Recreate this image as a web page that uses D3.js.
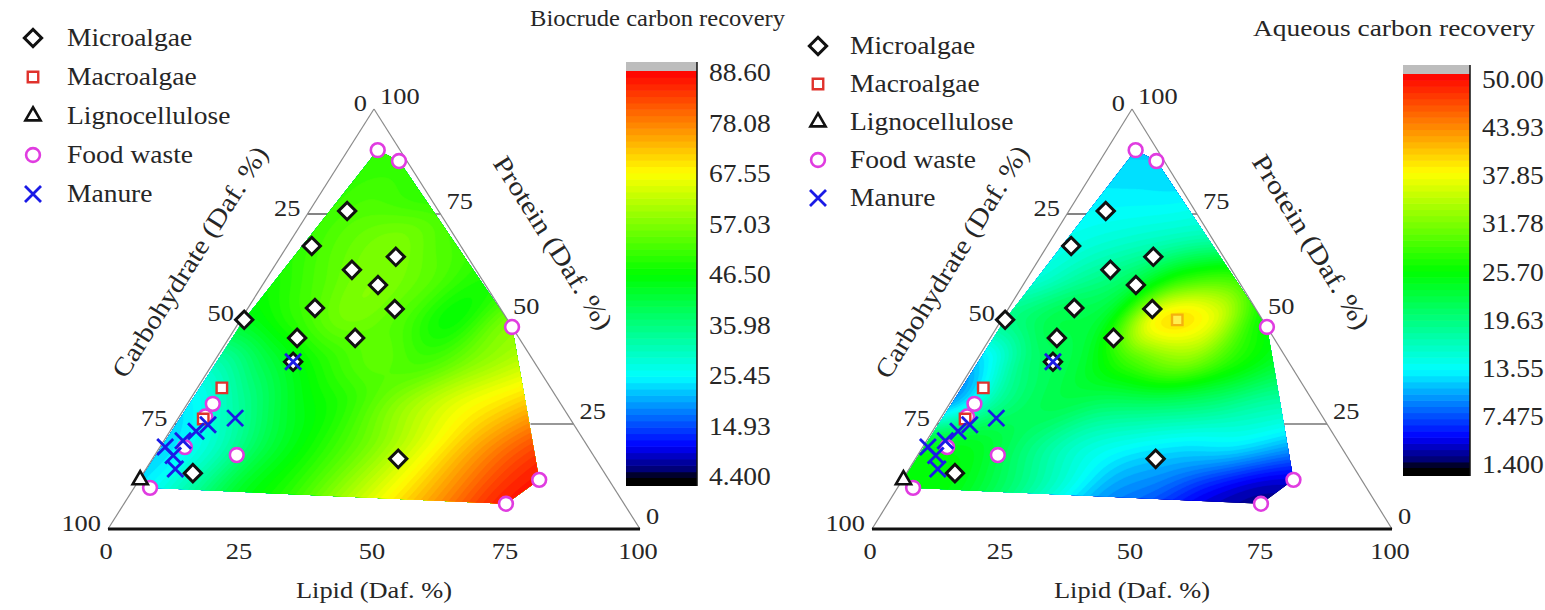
<!DOCTYPE html>
<html>
<head>
<meta charset="utf-8">
<script src="https://cdn.jsdelivr.net/npm/d3@7"></script>
<style>
  html, body { margin: 0; background: #ffffff; }
  svg { display: block; }
  text { font-family: "Liberation Serif", "Times New Roman", serif; fill: #262626; }
</style>
</head>
<body>
<svg id="chart" width="1545" height="610"></svg>
<script>
// Feedstock compositions as [lipid, protein] in daf %; carbohydrate = 100 - lipid - protein
const microalgae = [
  [7.1, 75.7], [4.6, 67.4], [15.0, 61.7], [21.7, 64.8], [21.7, 58.1], [12.6, 52.6],
  [27.7, 52.4], [0.7, 49.8], [12.8, 45.5], [23.7, 45.5], [46.2, 16.7], [9.3, 13.3], [14.9, 39.8]
];
const macroalgae = [[4.6, 33.6], [4.8, 26.2]];
const lignocellulose = [[0.2, 11.7]];
const foodWaste = [
  [5.6, 90.2], [10.9, 87.6], [51.9, 48.1], [75.2, 11.7], [71.8, 6.0],
  [4.8, 29.8], [15.4, 17.6], [3.0, 9.8], [4.7, 19.5], [4.9, 26.8]
];
const manure = [
  [10.7, 26.4], [6.4, 24.8], [4.9, 23.3], [3.6, 21.0], [1.0, 19.5], [3.5, 17.5], [5.5, 14.3], [14.9, 39.8]
];
const macroalgaeFaint = [[33.8, 49.8]];

const axisTicks = [0, 25, 50, 75, 100];
const innerTicks = [25, 50, 75];

// Response surfaces sampled every 10 % (rows: protein 0..100, columns: lipid 0..100)
const biocrudeField = [
  [25, 34, 44, 51, 61, 70, 78, 86, 88, 88, 88],
  [24, 32, 43, 50, 59, 68, 77, 85, 88, 88, 88],
  [23, 30, 41, 49, 57, 66, 75, 82, 86, 86, 86],
  [25, 34, 44, 50, 58, 65, 70, 75, 78, 78, 78],
  [32, 41, 49, 54, 52, 58, 63, 66, 66, 66, 66],
  [44, 50, 56, 53, 47, 56, 58, 58, 58, 58, 58],
  [48, 53, 57, 54, 49, 50, 50, 50, 50, 50, 50],
  [50, 54, 56, 52, 50, 50, 50, 50, 50, 50, 50],
  [50, 52, 50, 50, 50, 50, 50, 50, 50, 50, 50],
  [50, 50, 50, 50, 50, 50, 50, 50, 50, 50, 50],
  [50, 50, 50, 50, 50, 50, 50, 50, 50, 50, 50]
];
const aqueousField = [
  [24, 24, 20, 14, 10, 7, 4, 3, 3, 3, 3],
  [25, 25, 21, 16, 11, 9, 6, 4, 4, 4, 4],
  [24, 24, 20, 16, 14, 13, 13, 11, 9, 9, 9],
  [11, 19, 22, 21, 21, 20, 18, 17, 16, 16, 16],
  [12, 20, 23, 29, 32, 27, 23, 22, 22, 22, 22],
  [19, 22, 24, 38, 37, 26, 23, 22, 22, 22, 22],
  [15, 18, 21, 27, 28, 22, 20, 20, 20, 20, 20],
  [14, 15, 16, 17, 17, 17, 17, 17, 17, 17, 17],
  [13, 13, 13, 14, 14, 14, 14, 14, 14, 14, 14],
  [12, 12, 12, 12, 12, 12, 12, 12, 12, 12, 12],
  [11, 11, 11, 11, 11, 11, 11, 11, 11, 11, 11]
];

const biocrudeLabels = ["88.60", "78.08", "67.55", "57.03", "46.50", "35.98", "25.45", "14.93", "4.400"];
const aqueousLabels = ["50.00", "43.93", "37.85", "31.78", "25.70", "19.63", "13.55", "7.475", "1.400"];

const legendItems = ["Microalgae", "Macroalgae", "Lignocellulose", "Food waste", "Manure"];

// rainbow palette: black - blue - cyan - green - yellow - red
const paletteStops = [0, 0.02, 0.08, 0.25, 0.5, 0.75, 1];
const paletteColors = ["#000000", "#000070", "#0000ff", "#00ffff", "#00ff00", "#ffff00", "#ff0000"];
const palette = d3.scaleLinear().domain(paletteStops).range(paletteColors).clamp(true);

const svg = d3.select("#chart");
const SX = 1.1; // horizontal glyph stretch

function label(parent, x, y, str, size, anchor) {
  return parent.append("text")
    .attr("transform", `translate(${x},${y}) scale(${SX},1)`)
    .attr("font-size", size)
    .attr("text-anchor", anchor || "start")
    .attr("dominant-baseline", "central")
    .text(str);
}

function catmull(p0, p1, p2, p3, t) {
  return 0.5 * (2 * p1 + (-p0 + p2) * t + (2 * p0 - 5 * p1 + 4 * p2 - p3) * t * t +
    (-p0 + 3 * p1 - 3 * p2 + p3) * t * t * t);
}

function sampleField(field, L, P) {
  const n = field.length - 1;
  const u = Math.max(0, Math.min(100, L)) / 10;
  const v = Math.max(0, Math.min(100, P)) / 10;
  const i = Math.min(n - 1, Math.floor(u)), j = Math.min(n - 1, Math.floor(v));
  const tu = u - i, tv = v - j;
  const at = (r, c) => field[Math.max(0, Math.min(n, r))][Math.max(0, Math.min(n, c))];
  const rows = [];
  for (let r = j - 1; r <= j + 2; r++) {
    rows.push(catmull(at(r, i - 1), at(r, i), at(r, i + 1), at(r, i + 2), tu));
  }
  return catmull(rows[0], rows[1], rows[2], rows[3], tv);
}

const markerPaths = {
  diamond: d3.symbol().type(d3.symbolSquare).size(150)(),
  square: d3.symbol().type(d3.symbolSquare).size(110)(),
  circle: d3.symbol().type(d3.symbolCircle).size(150)(),
  triangle: d3.symbol().type(d3.symbolTriangle).size(100)(),
  cross: "M-8,-8L8,8M-8,8L8,-8"
};
const markerStyle = {
  diamond: { stroke: "#111111", fill: "#ffffff", width: 3, rotate: 45 },
  square: { stroke: "#e0322c", fill: "#ffffff", width: 2.4, rotate: 0 },
  circle: { stroke: "#e03ce0", fill: "#ffffff", width: 2.6, rotate: 0 },
  triangle: { stroke: "#111111", fill: "#ffffff", width: 2.6, rotate: 0 },
  cross: { stroke: "#1a1ae6", fill: "none", width: 2.8, rotate: 0 }
};

function drawMarkers(g, data, kind, pos, opacity) {
  const st = markerStyle[kind];
  g.selectAll(null).data(data).join("path")
    .attr("d", markerPaths[kind])
    .attr("transform", d => {
      const [x, y] = pos(d[0], d[1]);
      return `translate(${x},${y}) rotate(${st.rotate})`;
    })
    .attr("fill", st.fill)
    .attr("stroke", st.stroke)
    .attr("stroke-width", st.width)
    .attr("opacity", opacity == null ? 1 : opacity);
}

function drawPanel(cfg) {
  const g = svg.append("g");
  const sx = d3.scaleLinear([0, 100], [cfg.x0, cfg.x1]);
  const sy = d3.scaleLinear([0, 100], [cfg.yb, cfg.yt]);
  const pos = (L, P) => [sx(L + P / 2), sy(P)];
  const apex = pos(0, 100), bl = pos(0, 0), br = pos(100, 0);

  // inner ticks (under the surface)
  innerTicks.forEach(v => {
    const [xl, yl] = pos(0, 100 - v);
    g.append("line").attr("x1", xl).attr("y1", yl).attr("x2", xl + 20).attr("y2", yl)
      .attr("stroke", "#333").attr("stroke-width", 1.2);
    const [xr, yr] = pos(100 - v, v);
    g.append("line").attr("x1", xr).attr("y1", yr).attr("x2", xr - 43).attr("y2", yr)
      .attr("stroke", "#333").attr("stroke-width", 1.2);
  });

  // interpolated surface, clipped to the hull of the samples
  const allPts = [].concat(microalgae, macroalgae, lignocellulose, foodWaste, manure);
  const hull = d3.polygonHull(allPts.map(d => pos(d[0], d[1])));
  const clipId = "clip-" + cfg.id;
  svg.append("defs").append("clipPath").attr("id", clipId)
    .append("path").attr("d", "M" + hull.join("L") + "Z");

  const [lo, hi] = cfg.domain;
  const s = 2;
  const nx = Math.ceil((cfg.x1 - cfg.x0) / s), ny = Math.ceil((cfg.yb - cfg.yt) / s);
  const vals = new Float64Array(nx * ny);
  for (let j = 0; j < ny; j++) {
    for (let i = 0; i < nx; i++) {
      const x = cfg.x0 + (i + 0.5) * s, y = cfg.yt + (j + 0.5) * s;
      const P = sy.invert(y);
      const L = sx.invert(x) - P / 2;
      const v = sampleField(cfg.field, L, P);
      vals[j * nx + i] = Math.max(lo, Math.min(hi, v));
    }
  }
  const nLev = 72;
  const step = (hi - lo) / nLev;
  const thresholds = d3.range(nLev).map(k => lo + k * step);
  const contours = d3.contours().size([nx, ny]).thresholds(thresholds)(vals);
  const geo = d3.geoPath(d3.geoIdentity().scale(s).translate([cfg.x0, cfg.yt]));
  const frac = d3.scaleLinear([lo, hi], [0, 1]);
  g.append("g").attr("clip-path", `url(#${clipId})`)
    .selectAll("path").data(contours).join("path")
    .attr("d", geo)
    .attr("fill", d => palette(frac(d.value + step / 2)))
    .attr("stroke", d => palette(frac(d.value + step / 2)))
    .attr("stroke-width", 0.6);

  // triangle frame
  g.append("line").attr("x1", bl[0]).attr("y1", bl[1]).attr("x2", apex[0]).attr("y2", apex[1])
    .attr("stroke", "#8a8a8a").attr("stroke-width", 1.2);
  g.append("line").attr("x1", br[0]).attr("y1", br[1]).attr("x2", apex[0]).attr("y2", apex[1])
    .attr("stroke", "#8a8a8a").attr("stroke-width", 1.2);
  g.append("line").attr("x1", bl[0]).attr("y1", bl[1]).attr("x2", br[0]).attr("y2", br[1])
    .attr("stroke", "#111").attr("stroke-width", 2.8);

  // tick labels
  axisTicks.forEach(v => {
    const [xb] = pos(v, 0);
    label(g, xb - 2, cfg.yb + 22, String(v), 24, "middle");
    const [xl, yl] = pos(0, 100 - v);
    label(g, xl - 7, yl - 6, String(v), 24, "end");
    const [xr, yr] = pos(100 - v, v);
    label(g, xr + 6, yr - 13, String(v), 24, "start");
  });

  // axis titles
  label(g, (bl[0] + br[0]) / 2, 590, "Lipid (Daf. %)", 24, "middle");
  const ang = Math.atan2(bl[1] - apex[1], apex[0] - bl[0]) * 180 / Math.PI;
  g.append("text")
    .attr("transform", `translate(${cfg.carbTitle[0]},${cfg.carbTitle[1]}) rotate(${-ang})`)
    .attr("font-size", 26).attr("text-anchor", "middle").attr("dominant-baseline", "central")
    .attr("textLength", 268).attr("lengthAdjust", "spacingAndGlyphs")
    .text("Carbohydrate (Daf. %)");
  g.append("text")
    .attr("transform", `translate(${cfg.protTitle[0]},${cfg.protTitle[1]}) rotate(${ang})`)
    .attr("font-size", 26).attr("text-anchor", "middle").attr("dominant-baseline", "central")
    .attr("textLength", 200).attr("lengthAdjust", "spacingAndGlyphs")
    .text("Protein (Daf. %)");

  // samples
  drawMarkers(g, foodWaste, "circle", pos);
  drawMarkers(g, macroalgae, "square", pos);
  if (cfg.faint) drawMarkers(g, macroalgaeFaint, "square", pos, 0.3);
  drawMarkers(g, lignocellulose, "triangle", pos);
  drawMarkers(g, microalgae, "diamond", pos);
  drawMarkers(g, manure, "cross", pos);

  // legend
  const kinds = ["diamond", "square", "triangle", "circle", "cross"];
  legendItems.forEach((name, k) => {
    const y = cfg.legend.y[k];
    drawMarkers(g, [[0, 0]], kinds[k], () => [cfg.legend.mx, y]);
    label(g, cfg.legend.tx, y, name, 25, "start");
  });

  // title
  g.append("text")
    .attr("x", cfg.title.x).attr("y", cfg.title.y)
    .attr("font-size", 23).attr("dominant-baseline", "central")
    .attr("textLength", cfg.title.w).attr("lengthAdjust", "spacingAndGlyphs")
    .text(cfg.title.text);

  // colour bar
  const cb = cfg.bar;
  const by = d3.scaleLinear([lo, hi], [cb.bottom, cb.top]);
  const nBands = 64;
  const bStep = (hi - lo) / nBands;
  g.append("g").selectAll("rect").data(d3.range(nBands)).join("rect")
    .attr("x", cb.x).attr("width", cb.w)
    .attr("y", k => by(lo + (k + 1) * bStep))
    .attr("height", k => by(lo + k * bStep) - by(lo + (k + 1) * bStep) + 0.6)
    .attr("fill", k => palette(frac(lo + (k + 0.5) * bStep)));
  g.append("rect").attr("x", cb.x).attr("width", cb.w)
    .attr("y", cb.top - 9).attr("height", 9).attr("fill", "#bdbdbd");
  g.append("rect").attr("x", cb.x).attr("width", cb.w)
    .attr("y", cb.bottom).attr("height", 8).attr("fill", "#000");
  g.append("line").attr("x1", cb.x + cb.w).attr("x2", cb.x + cb.w)
    .attr("y1", cb.top - 9).attr("y2", cb.bottom + 8)
    .attr("stroke", "#111").attr("stroke-width", 1.5);
  const labelY = d3.scaleLinear([0, cfg.labels.length - 1], [cb.labTop, cb.labBottom]);
  cfg.labels.forEach((t, k) => label(g, cb.x + cb.w + 12, labelY(k), t, 25, "start"));
}

drawPanel({
  id: "biocrude", x0: 108, x1: 640, yb: 529, yt: 109,
  field: biocrudeField, domain: [4.4, 88.6], labels: biocrudeLabels,
  carbTitle: [190, 262], protTitle: [553, 243],
  legend: { mx: 33, tx: 67, y: [38, 77, 116, 155, 194] },
  title: { x: 530, y: 18, w: 255, text: "Biocrude carbon recovery" },
  bar: { x: 626, w: 71, top: 71, bottom: 478, labTop: 73, labBottom: 477 }
});
drawPanel({
  id: "aqueous", x0: 872, x1: 1392, yb: 529, yt: 109, faint: true,
  field: aqueousField, domain: [1.4, 50], labels: aqueousLabels,
  carbTitle: [952, 262], protTitle: [1311, 242],
  legend: { mx: 818, tx: 850, y: [46, 84, 122, 160, 198] },
  title: { x: 1253, y: 28, w: 282, text: "Aqueous carbon recovery" },
  bar: { x: 1403, w: 67, top: 74, bottom: 468, labTop: 80, labBottom: 465 }
});
</script>
</body>
</html>
